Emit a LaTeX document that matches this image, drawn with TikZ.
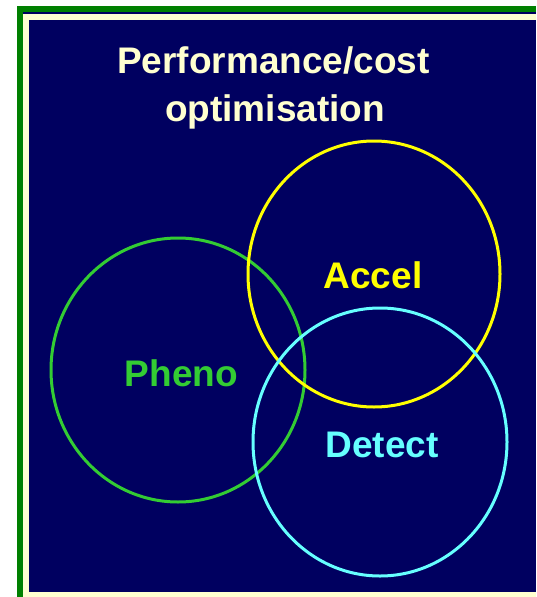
\documentclass[tikz,border=0pt]{standalone}
\usepackage{fontspec}
\setmainfont{Liberation Sans}
\definecolor{navy}{RGB}{0,0,96}
\definecolor{frame}{RGB}{0,128,0}
\definecolor{cream}{RGB}{255,255,208}
\definecolor{phgreen}{RGB}{51,204,51}
\definecolor{acyellow}{RGB}{255,255,0}
\definecolor{decyan}{RGB}{102,255,255}
\begin{document}
\begin{tikzpicture}[x=1pt,y=-1pt,
  lbl/.style={font=\fontsize{37}{44}\selectfont\bfseries, anchor=base, inner sep=0pt},
  ring/.style={line width=3pt}]
\useasboundingbox (0,0) rectangle (536,597);
\fill[white] (0,0) rectangle (536,597);
\fill[frame] (17,6) rectangle (536,597);
\fill[navy] (23,12) rectangle (536,597);
\fill[cream] (23,14) rectangle (536,597);
\fill[navy] (29,20) rectangle (536,592);
\node[lbl, text=cream] (t1) at (273.5,73) {Performance/cost};
\node[lbl, text=cream] (t2) at (275,121) {optimisation};
\draw[ring, phgreen] (178,370) ellipse [x radius=127, y radius=132];
\draw[ring, acyellow] (374,274) ellipse [x radius=126, y radius=133];
\draw[ring, decyan] (380,442) ellipse [x radius=127, y radius=134];
\node[lbl, text=acyellow] (accel) at (373,288) {Accel};
\node[lbl, text=phgreen] (pheno) at (181.5,386) {Pheno};
\node[lbl, text=decyan] (detect) at (382,457) {Detect};
\end{tikzpicture}
\end{document}
